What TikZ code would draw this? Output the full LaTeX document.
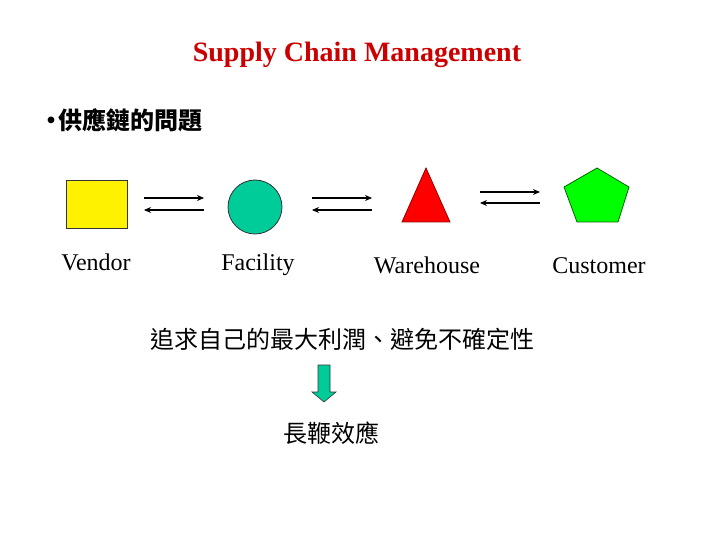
\documentclass[tikz,border=0pt]{standalone}
\usepackage{fontspec}
\setmainfont{Liberation Serif}
\newfontfamily\cjk{Noto Sans CJK TC}
\usetikzlibrary{arrows.meta}
\definecolor{titlered}{RGB}{204,0,0}
\definecolor{teal}{RGB}{0,204,153}
\tikzset{
  pairarrow/.style={line width=1.6pt,-{Stealth[length=7pt,width=6pt]}},
  lbl/.style={font=\fontsize{24}{28}\selectfont,inner sep=0pt,anchor=base},
  cjktext/.style={font=\cjk\fontsize{24}{28}\selectfont,inner sep=0pt},
  shapeline/.style={line width=0.8pt}
}
\begin{document}
\begin{tikzpicture}[x=1pt,y=-1pt]
\useasboundingbox (0,0) rectangle (720,540);
% title
\node[font=\bfseries\fontsize{28}{32}\selectfont,text=titlered,inner sep=0pt,anchor=base] (title) at (357,62) {Supply Chain Management};
\node[font=\cjk\bfseries\fontsize{24}{28}\selectfont,inner sep=0pt,anchor=west] (bullet) at (39,120) {\textbullet\kern-5pt 供應鏈的問題};
% shapes
\node[draw=black!80,fill=yellow,shapeline,minimum width=61pt,minimum height=48pt,inner sep=0pt] (vendor) at (96.5,204) {};
\node[draw=black!80,fill=teal,shapeline,circle,minimum size=54pt,inner sep=0pt] (facility) at (255,207) {};
\draw[draw=red!60!black,fill=red,shapeline] (426,168) -- (450,222) -- (402,222) -- cycle;
\coordinate (warehouse) at (426,200);
\draw[draw=green!40!black,fill=green,shapeline] (597,168) -- (629,187) -- (618,222) -- (577,222) -- (564,187) -- cycle;
\coordinate (customer) at (597,200);
% arrow pairs
\coordinate (a1s) at (144,198); \coordinate (a1e) at (204,198);
\coordinate (b1s) at (204,210); \coordinate (b1e) at (144,210);
\coordinate (a2s) at (312,198); \coordinate (a2e) at (372,198);
\coordinate (b2s) at (372,210); \coordinate (b2e) at (312,210);
\coordinate (a3s) at (480,192); \coordinate (a3e) at (540,192);
\coordinate (b3s) at (540,203); \coordinate (b3e) at (480,203);
\draw[pairarrow] (a1s) -- (a1e);
\draw[pairarrow] (b1s) -- (b1e);
\draw[pairarrow] (a2s) -- (a2e);
\draw[pairarrow] (b2s) -- (b2e);
\draw[pairarrow] (a3s) -- (a3e);
\draw[pairarrow] (b3s) -- (b3e);
% labels
\node[lbl] (lv) at (96,270) {Vendor};
\node[lbl] (lf) at (258,270) {Facility};
\node[lbl] (lw) at (427,273) {Warehouse};
\node[lbl] (lc) at (599,273) {Customer};
% bottom
\node[cjktext] (cause) at (342,339) {追求自己的最大利潤、避免不確定性};
\draw[draw=black!80,fill=teal,line width=0.6pt] (318,365) -- (330,365) -- (330,392) -- (336,392) -- (324,402) -- (312,392) -- (318,392) -- cycle;
\node[cjktext] (effect) at (331,433) {長鞭效應};
\end{tikzpicture}
\end{document}
